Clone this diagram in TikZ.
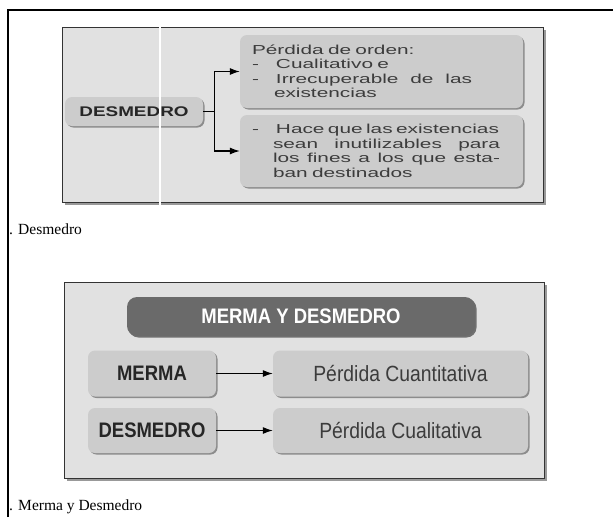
\documentclass[tikz,border=0pt]{standalone}
\usepackage{fontspec}
\setmainfont{Liberation Serif}
\newfontfamily\cuerpo[FakeStretch=1.6]{Liberation Sans}
\newfontfamily\rotulo[FakeStretch=1.35]{Liberation Sans}
\newfontfamily\angosta[FakeStretch=0.88]{Liberation Sans}
\usepackage{tikz}
\usetikzlibrary{arrows.meta,shadows,positioning}

\definecolor{fondo}{HTML}{E1E1E1}
\definecolor{grisclaro}{HTML}{CCCCCC}
\definecolor{sombra}{HTML}{8C8C8C}
\definecolor{barra}{HTML}{6A6A6A}
\definecolor{letra}{HTML}{3C3C3C}

\begin{document}
\begin{tikzpicture}[x=1pt,y=-1pt,
  marco/.style={draw=black!80,line width=1pt,fill=fondo,
    drop shadow={shadow xshift=3pt,shadow yshift=-3pt,fill=black,opacity=.4}},
  caja/.style={fill=grisclaro,rounded corners=7pt,
    drop shadow={shadow xshift=1.5pt,shadow yshift=-1.5pt,fill=sombra,opacity=1}},
  flecha/.style={line width=1.1pt,-{Latex[length=10pt,width=7pt]}}]

\fill[white] (0,0) rectangle (615,517);
\useasboundingbox (0,0) rectangle (615,517);

% marco de la pagina
\draw[line width=1.5pt] (8,517) -- (8,10) -- (613,10);

% primer cuadro: desmedro
\node[marco,minimum width=481pt,minimum height=175pt] (fondo1) at (302.5,114.5) {};

\node[caja,minimum width=138pt,minimum height=29pt,text=black!85,
  font=\rotulo\bfseries\fontsize{14}{14}\selectfont] (desm1) at (134,111.5) {DESMEDRO};

\node[caja,minimum height=73pt,text width=259pt,inner xsep=12pt,align=left,text=letra,
  font=\cuerpo\fontsize{13}{14.5}\selectfont] (orden) at (381.5,71.5)
  {P\'erdida de orden:\\
   \makebox[24pt][l]{-}Cualitativo e\\
   \makebox[24pt][l]{-}\makebox[196pt][l]{Irrecuperable\hfill de\hfill las}\\
   \hspace*{22pt}existencias};

\node[caja,minimum height=72pt,text width=259pt,inner xsep=12pt,align=left,text=letra,
  font=\cuerpo\fontsize{13}{14.5}\selectfont] (inutil) at (381.5,151)
  {\makebox[24pt][l]{-}\makebox[223pt][l]{Hace\hfill que\hfill las\hfill existencias}\\
   \hspace*{21pt}\makebox[227pt][l]{sean\hfill inutilizables\hfill para}\\
   \hspace*{21pt}\makebox[227pt][l]{los\hfill fines\hfill a\hfill los\hfill que\hfill esta-}\\
   \hspace*{21pt}ban destinados};

\coordinate (rama) at ([xshift=11pt]desm1.east);
\draw[line width=1.1pt] (desm1.east) -- (rama);
\draw[flecha] (rama) |- (orden.west);
\draw[flecha] (rama) |- (inutil.west);

\draw[white,line width=2pt] (160,25) -- (160,207);

\node[anchor=west,inner sep=0pt,font=\fontsize{15.5}{15.5}\selectfont] (pie1) at (9,229) {. Desmedro};

% segundo cuadro: merma y desmedro
\node[marco,minimum width=480pt,minimum height=196pt] (fondo2) at (304,380) {};

\node[fill=barra,rounded corners=10pt,minimum width=348pt,minimum height=39pt,text=white,
  drop shadow={shadow xshift=1.5pt,shadow yshift=-1.5pt,fill=black,opacity=.5},
  font=\angosta\bfseries\fontsize{21}{21}\selectfont] (titulo) at (301,316.5) {MERMA Y DESMEDRO};

\node[caja,minimum width=128pt,minimum height=46pt,text=black!85,
  font=\angosta\bfseries\fontsize{21}{21}\selectfont] (merma) at (152,373.5) {MERMA};
\node[caja,minimum width=128pt,minimum height=45pt,text=black!85,
  font=\angosta\bfseries\fontsize{21}{21}\selectfont] (desm2) at (152,430.5) {DESMEDRO};

\node[caja,minimum width=255pt,minimum height=46pt,text=letra,
  font=\angosta\fontsize{22}{22}\selectfont] (cuanti) at (400.5,373.5) {P\'erdida Cuantitativa};
\node[caja,minimum width=255pt,minimum height=45pt,text=letra,
  font=\angosta\fontsize{22}{22}\selectfont] (cuali) at (400.5,430.5) {P\'erdida Cualitativa};

\draw[flecha] (merma) -- (cuanti);
\draw[flecha] (desm2) -- (cuali);

\node[anchor=west,inner sep=0pt,font=\fontsize{15.5}{15.5}\selectfont] (pie2) at (9,507) {. Merma y Desmedro};

\end{tikzpicture}
\end{document}
